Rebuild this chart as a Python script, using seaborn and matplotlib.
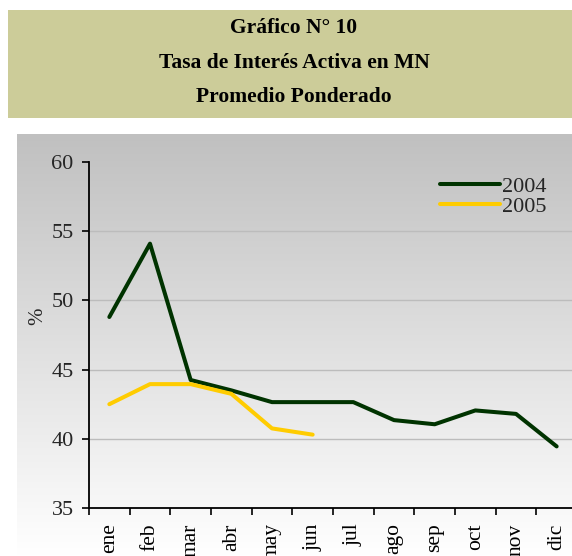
import numpy as np
import pandas as pd
import matplotlib
matplotlib.use("Agg")
import matplotlib.pyplot as plt
import seaborn as sns
from matplotlib.colors import LinearSegmentedColormap
from matplotlib.patches import Rectangle
from matplotlib.ticker import FixedLocator

sns.set_theme(style="white")
plt.rcParams['font.family'] = ['Liberation Serif', 'DejaVu Serif']

# data
months = ["ene", "feb", "mar", "abr", "may", "jun", "jul", "ago", "sep", "oct", "nov", "dic"]
rate_2004 = [48.8, 54.1, 44.25, 43.5, 42.65, 42.65, 42.65, 41.35, 41.05, 42.05, 41.8, 39.45]
rate_2005 = [42.5, 43.95, 43.95, 43.25, 40.75, 40.3]
title_lines = ["Gráfico N° 10", "Tasa de Interés Activa en MN", "Promedio Ponderado"]

df = pd.concat([
    pd.DataFrame({"mes": months, "tasa": rate_2004, "año": "2004"}),
    pd.DataFrame({"mes": months[:len(rate_2005)], "tasa": rate_2005, "año": "2005"}),
], ignore_index=True)

W, H = 572, 556
fig = plt.figure(figsize=(W / 100, H / 100), dpi=100)
fig.patch.set_facecolor("white")

# title box
fig.patches.append(Rectangle((8 / W, 1 - 118 / H), (W - 8) / W, 108 / H,
                             transform=fig.transFigure, facecolor="#cccc99",
                             edgecolor="none", zorder=0))
for y, txt in zip([28, 63, 97], title_lines):
    fig.text(0.5 + 8 / W, 1 - y / H, txt, ha="center", va="center",
             fontsize=15.5, fontweight="bold", color="black")

# gradient background of chart area
bg = fig.add_axes([17 / W, 0, 1 - 17 / W, (H - 134) / H])
grad = np.linspace(0, 1, 256).reshape(-1, 1)
cmap = LinearSegmentedColormap.from_list("bg", ["#c0c0c0", "#ffffff"])
bg.imshow(grad, aspect="auto", cmap=cmap)
bg.axis("off")

ax = fig.add_axes([89 / W, 1 - 508 / H, 488 / W, 346 / H])
ax.patch.set_alpha(0)

for v in [40, 45, 50, 55]:
    ax.axhline(v, color="#bcbcbc", lw=1.0, zorder=0)

sns.lineplot(data=df, x="mes", y="tasa", hue="año", sort=False,
             palette={"2004": "#003300", "2005": "#ffcc00"},
             linewidth=2.9, ax=ax)

ax.set_xlim(-0.5, 11.5)
ax.set_ylim(35, 60)
ax.set_yticks([35, 40, 45, 50, 55, 60])
ax.set_xticks(range(len(months)))
ax.set_xticklabels(months, rotation=90)
ax.xaxis.set_minor_locator(FixedLocator(np.arange(-0.5, 12, 1)))
ax.tick_params(axis="x", which="major", length=0, pad=11, labelsize=15.5, colors="black")
ax.tick_params(axis="x", which="minor", length=5, width=1.2, color="black", direction="out", bottom=True)
ax.tick_params(axis="y", length=5, width=1.2, color="black", direction="out", pad=6,
               labelsize=16, left=True)
for s in ["top", "right"]:
    ax.spines[s].set_visible(False)
for s in ["left", "bottom"]:
    ax.spines[s].set_color("black")
    ax.spines[s].set_linewidth(1.3)
ax.set_xlabel("")
ax.set_ylabel("")
fig.text(38 / W, 1 - 316 / H, "%", rotation=90, ha="center", va="center", fontsize=15)

ax.legend(title=None, frameon=False, loc="upper left",
          bbox_to_anchor=(440 / W, 1 - 176 / H), bbox_transform=fig.transFigure,
          fontsize=16, handlelength=2.7, handletextpad=0.1, labelspacing=0.0,
          borderpad=0, borderaxespad=0)

fig.savefig("out.png", dpi=100)
